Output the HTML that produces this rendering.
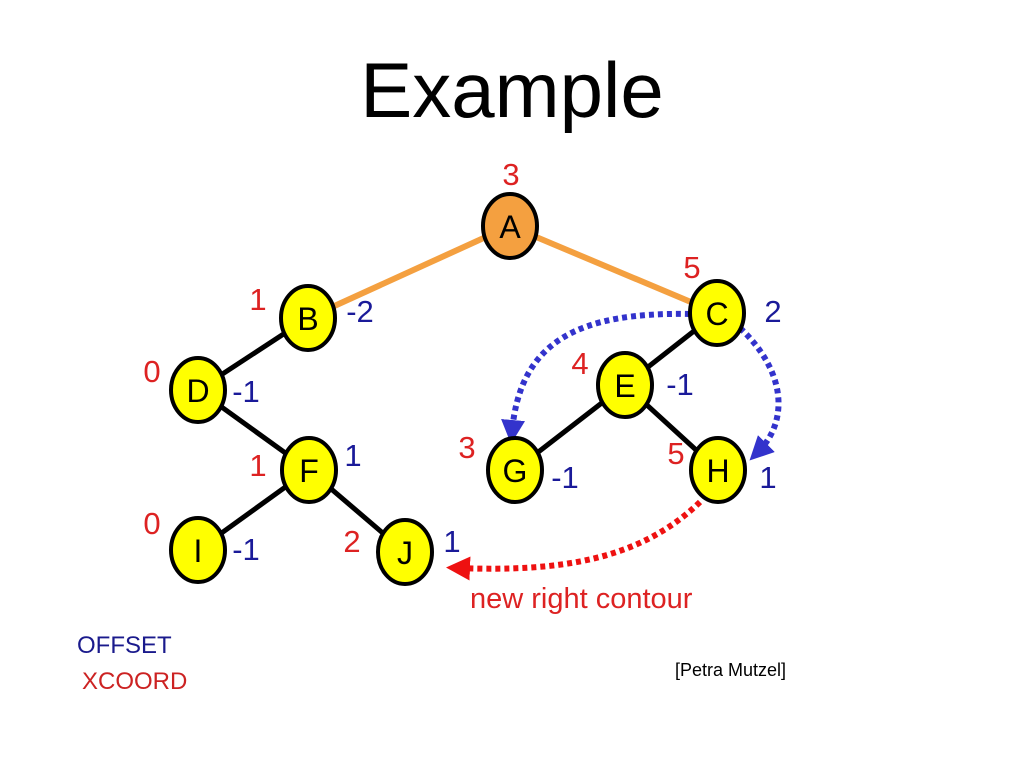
<!DOCTYPE html>
<html><head><meta charset="utf-8"><style>
html,body{margin:0;padding:0;background:#fff;}
svg{display:block;font-family:"Liberation Sans",sans-serif;}
</style></head><body>
<svg width="1024" height="768" viewBox="0 0 1024 768">
<defs>
<marker id="ab" markerWidth="4" markerHeight="4" refX="2" refY="2" orient="auto" markerUnits="strokeWidth"><path d="M0,0 L4,2 L0,4 z" fill="#3333cc"/></marker>
<marker id="ar" markerWidth="4" markerHeight="4" refX="2" refY="2" orient="auto" markerUnits="strokeWidth"><path d="M0,0 L4,2 L0,4 z" fill="#ee1111"/></marker>
</defs>
<text x="512" y="117" font-size="78" text-anchor="middle" fill="#000">Example</text>
<g stroke="#f4a040" stroke-width="6"><line x1="510" y1="226" x2="308" y2="318"/><line x1="510" y1="226" x2="717" y2="313"/></g>
<g stroke="#000" stroke-width="5">
<line x1="308" y1="318" x2="198" y2="390"/><line x1="198" y1="390" x2="309" y2="470"/>
<line x1="309" y1="470" x2="198" y2="550"/><line x1="309" y1="470" x2="405" y2="552"/>
<line x1="717" y1="313" x2="625" y2="385"/><line x1="625" y1="385" x2="515" y2="470"/><line x1="625" y1="385" x2="718" y2="470"/>
</g>
<g fill="none" stroke-width="6" stroke-dasharray="5,4">
<path d="M690,314 C580,312 520,340 512,432" stroke="#3333cc" marker-end="url(#ab)"/>
<path d="M740,328 C785,370 790,420 758,452" stroke="#3333cc" marker-end="url(#ab)"/>
<path d="M700,502 C640,560 560,572 458,568" stroke="#ee1111" marker-end="url(#ar)"/>
</g>
<g stroke="#000" stroke-width="4" fill="#ffff00">
<ellipse cx="510" cy="226" rx="27" ry="32" fill="#f4a040"/>
<ellipse cx="308" cy="318" rx="27" ry="32"/><ellipse cx="717" cy="313" rx="27" ry="32"/>
<ellipse cx="198" cy="390" rx="27" ry="32"/><ellipse cx="625" cy="385" rx="27" ry="32"/>
<ellipse cx="309" cy="470" rx="27" ry="32"/><ellipse cx="515" cy="470" rx="27" ry="32"/>
<ellipse cx="718" cy="470" rx="27" ry="32"/><ellipse cx="198" cy="550" rx="27" ry="32"/>
<ellipse cx="405" cy="552" rx="27" ry="32"/>
</g>
<g font-size="32" text-anchor="middle" fill="#000">
<text x="510" y="238">A</text><text x="308" y="330">B</text><text x="717" y="325">C</text>
<text x="198" y="402">D</text><text x="625" y="397">E</text><text x="309" y="482">F</text>
<text x="515" y="482">G</text><text x="718" y="482">H</text><text x="198" y="562">I</text><text x="405" y="564">J</text>
</g>
<g font-size="31" text-anchor="middle" fill="#dd2222">
<text x="511" y="185">3</text><text x="258" y="310">1</text><text x="692" y="278">5</text>
<text x="152" y="382">0</text><text x="580" y="374">4</text><text x="258" y="476">1</text>
<text x="467" y="458">3</text><text x="676" y="464">5</text><text x="152" y="534">0</text><text x="352" y="552">2</text>
<text x="470" y="608" font-size="29" text-anchor="start" x="442">new right contour</text>
</g>
<g font-size="31" text-anchor="middle" fill="#1a1a99">
<text x="360" y="322">-2</text><text x="773" y="322">2</text><text x="246" y="402">-1</text>
<text x="680" y="395">-1</text><text x="353" y="466">1</text><text x="565" y="488">-1</text>
<text x="768" y="488">1</text><text x="246" y="560">-1</text><text x="452" y="552">1</text>
</g>
<text x="77" y="653" font-size="24" fill="#1a1a8c">OFFSET</text>
<text x="82" y="689" font-size="24" fill="#cc2222">XCOORD</text>
<text x="675" y="676" font-size="18" fill="#000">[Petra Mutzel]</text>
</svg>
</body></html>
